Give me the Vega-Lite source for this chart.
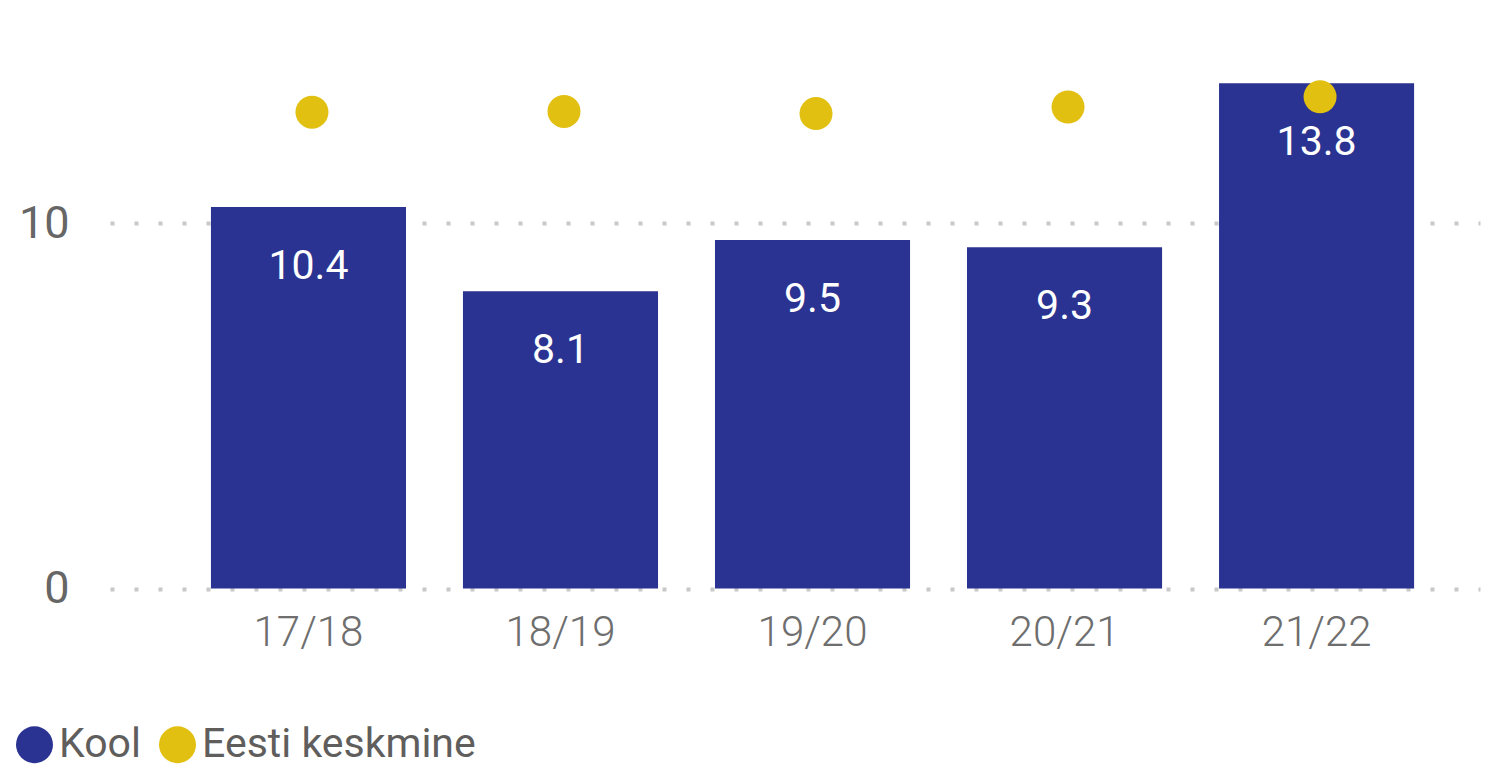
{
  "$schema": "https://vega.github.io/schema/vega-lite/v6.json",
  "autosize": {"type": "none"},
  "padding": {"left": 110, "top": 4, "right": 20, "bottom": 179},
  "width": 1370,
  "height": 584.5,
  "background": "white",
  "config": {
    "view": {"stroke": null},
    "font": "Roboto"
  },
  "data": {
    "values": [
      {"season": "17/18", "kool": 10.44, "eesti": 13.04},
      {"season": "18/19", "kool": 8.14, "eesti": 13.06},
      {"season": "19/20", "kool": 9.54, "eesti": 13.0},
      {"season": "20/21", "kool": 9.34, "eesti": 13.18},
      {"season": "21/22", "kool": 13.83, "eesti": 13.46}
    ]
  },
  "encoding": {
    "x": {
      "field": "season",
      "type": "nominal",
      "sort": null,
      "scale": {"paddingInner": 0.226, "paddingOuter": 0.331, "align": 0.605},
      "axis": {
        "title": null,
        "domain": false,
        "ticks": false,
        "labelAngle": 0,
        "labelFontSize": 42,
        "labelFontWeight": 300,
        "labelColor": "#6E6E6E",
        "labelPadding": 24,
        "labelFont": "Roboto"
      }
    }
  },
  "layer": [
    {
      "mark": {"type": "bar", "color": "#2A3391"},
      "encoding": {
        "y": {
          "field": "kool",
          "type": "quantitative",
          "scale": {"domain": [0, 16], "nice": false},
          "axis": {
            "title": null,
            "values": [0, 10],
            "domain": false,
            "ticks": false,
            "labelFontSize": 45,
            "labelColor": "#666666",
            "labelPadding": 41,
            "labelFont": "Roboto",
            "grid": true,
            "gridColor": "#C8C8C8",
            "gridDash": [4, 20],
            "gridWidth": 4
          }
        },
        "color": {
          "datum": "Kool",
          "type": "nominal",
          "scale": {"domain": ["Kool", "Eesti keskmine"], "range": ["#2A3391", "#E2C012"]},
          "legend": {
            "title": null,
            "orient": "none",
            "direction": "horizontal",
            "legendX": -96,
            "legendY": 720,
            "symbolType": "circle",
            "symbolSize": 1369,
            "symbolStrokeWidth": 0,
            "labelFontSize": 41,
            "labelColor": "#605E5C",
            "labelFont": "Roboto",
            "labelLimit": 500,
            "labelOffset": 4,
            "columnPadding": 16,
            "padding": 0
          }
        }
      }
    },
    {
      "mark": {"type": "text", "color": "white", "fontSize": 41, "baseline": "alphabetic", "dy": 72, "font": "Roboto"},
      "encoding": {
        "y": {"field": "kool", "type": "quantitative"},
        "text": {"field": "kool", "type": "quantitative", "format": ".1f"}
      }
    },
    {
      "mark": {"type": "point", "filled": true, "opacity": 1, "size": 1089, "shape": "circle", "xOffset": 3.5},
      "encoding": {
        "y": {"field": "eesti", "type": "quantitative"},
        "color": {"datum": "Eesti keskmine", "type": "nominal"}
      }
    }
  ]
}
